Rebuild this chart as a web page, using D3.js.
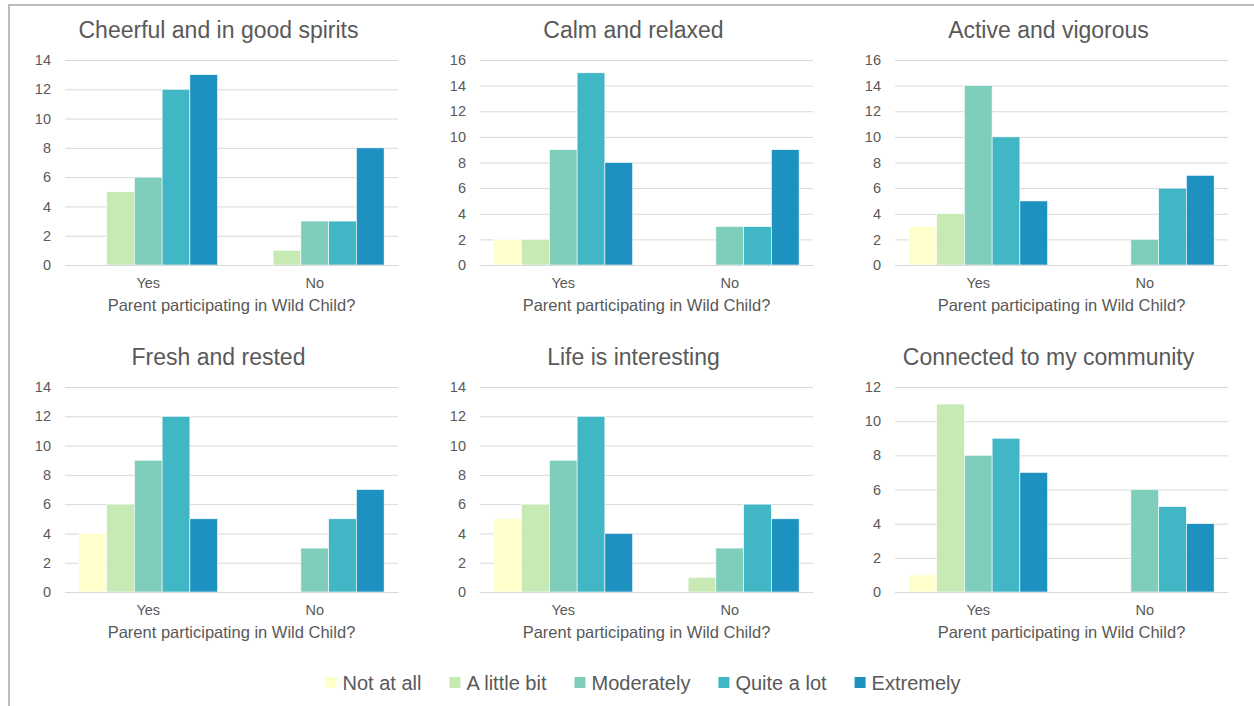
<!DOCTYPE html>
<html>
<head>
<meta charset="utf-8">
<script src="https://cdn.jsdelivr.net/npm/d3@7/dist/d3.min.js"></script>
<style>
  html, body { margin: 0; padding: 0; background: #fff; }
  svg { display: block; font-family: "Liberation Sans", Arial, sans-serif; }
</style>
</head>
<body>
<svg id="chart" width="1254" height="706"></svg>
<script>
// Response levels and their colours
const levels = ["Not at all", "A little bit", "Moderately", "Quite a lot", "Extremely"];
const levelColors = ["#FFFFCC", "#C7E9B4", "#7FCDBB", "#41B6C4", "#1D91C0"];
const groups = ["Yes", "No"];

// Counts per level, for parents participating (Yes) and not (No)
const cheerfulYes = [0, 5, 6, 12, 13];
const cheerfulNo  = [0, 1, 3, 3, 8];
const calmYes     = [2, 2, 9, 15, 8];
const calmNo      = [0, 0, 3, 3, 9];
const activeYes   = [3, 4, 14, 10, 5];
const activeNo    = [0, 0, 2, 6, 7];
const freshYes    = [4, 6, 9, 12, 5];
const freshNo     = [0, 0, 3, 5, 7];
const lifeYes     = [5, 6, 9, 12, 4];
const lifeNo      = [0, 1, 3, 6, 5];
const connectedYes = [1, 11, 8, 9, 7];
const connectedNo  = [0, 0, 6, 5, 4];

const titles = [
  "Cheerful and in good spirits", "Calm and relaxed", "Active and vigorous",
  "Fresh and rested", "Life is interesting", "Connected to my community"
];
const axisMax = [14, 16, 16, 14, 14, 12];
const axisTitle = "Parent participating in Wild Child?";

const panels = [
  [cheerfulYes, cheerfulNo], [calmYes, calmNo], [activeYes, activeNo],
  [freshYes, freshNo], [lifeYes, lifeNo], [connectedYes, connectedNo]
];

const svg = d3.select("#chart");
const textColor = "#595959";

// Frame lines
svg.append("line").attr("x1", 9).attr("x2", 1254).attr("y1", 5).attr("y2", 5)
  .attr("stroke", "#bdbdbd").attr("stroke-width", 2);
svg.append("line").attr("x1", 9).attr("x2", 9).attr("y1", 4).attr("y2", 706)
  .attr("stroke", "#bdbdbd").attr("stroke-width", 2);

const colLeft = [65, 480, 895];
const plotWidth = 333;
const rowTop = [60, 387];
const plotHeight = 205;

panels.forEach((pair, i) => {
  const col = i % 3, row = Math.floor(i / 3);
  const left = colLeft[col], top = rowTop[row];
  const g = svg.append("g").attr("transform", `translate(${left},${top})`);

  const y = d3.scaleLinear().domain([0, axisMax[i]]).range([plotHeight, 0]);
  const x0 = d3.scaleBand().domain(groups).range([0, plotWidth]).padding(0);
  const bw = x0.bandwidth();
  const x1 = d3.scaleBand().domain(levels).range([bw / 12, bw * 11 / 12]).padding(0);

  // Gridlines and value labels
  const ticks = d3.range(0, axisMax[i] + 1, 2);
  const yAxis = d3.axisLeft(y).tickValues(ticks).tickSize(-plotWidth).tickPadding(14);
  const ag = g.append("g").call(yAxis);
  ag.select(".domain").remove();
  ag.selectAll(".tick line").attr("stroke", "#d9d9d9").attr("stroke-width", 1);
  ag.selectAll(".tick text").attr("fill", textColor)
    .style("font-size", "14.5px").style("font-family", "Liberation Sans, Arial, sans-serif");

  // Bars
  groups.forEach((grp, gi) => {
    g.append("g").attr("transform", `translate(${x0(grp)},0)`)
      .selectAll("rect").data(pair[gi]).join("rect")
      .attr("x", (d, k) => x1(levels[k]))
      .attr("width", x1.bandwidth())
      .attr("y", d => y(d))
      .attr("height", d => plotHeight - y(d))
      .attr("fill", (d, k) => levelColors[k])
      .attr("stroke", "#ffffff").attr("stroke-width", 0.6);
  });

  // Category axis
  const xAxis = d3.axisBottom(x0).tickSize(0).tickPadding(13);
  const xg = g.append("g").attr("transform", `translate(0,${plotHeight})`).call(xAxis);
  xg.select(".domain").attr("stroke", "#d9d9d9");
  xg.selectAll(".tick text").attr("fill", textColor)
    .style("font-size", "14.5px").style("font-family", "Liberation Sans, Arial, sans-serif");

  g.append("text").attr("x", plotWidth / 2).attr("y", plotHeight + 46)
    .attr("text-anchor", "middle").attr("fill", textColor)
    .style("font-size", "16.5px").text(axisTitle);

  g.append("text").attr("x", plotWidth / 2 - 13).attr("y", -22)
    .attr("text-anchor", "middle").attr("fill", textColor)
    .style("font-size", "23px").text(titles[i]);
});

// Legend
const legend = svg.append("g");
const legendY = 683;
let cursor = 0;
levels.forEach((lv, k) => {
  const it = legend.append("g");
  it.append("rect").attr("x", 0).attr("y", legendY - 6).attr("width", 11).attr("height", 11)
    .attr("fill", levelColors[k]);
  const t = it.append("text").attr("x", 17).attr("y", legendY + 7)
    .attr("fill", textColor).style("font-size", "20px").text(lv);
  const w = 17 + t.node().getComputedTextLength();
  it.attr("transform", `translate(${cursor},0)`);
  cursor += w + 28;
});
const legendWidth = cursor - 28;
legend.attr("transform", `translate(${643 - legendWidth / 2},0)`);
</script>
</body>
</html>
